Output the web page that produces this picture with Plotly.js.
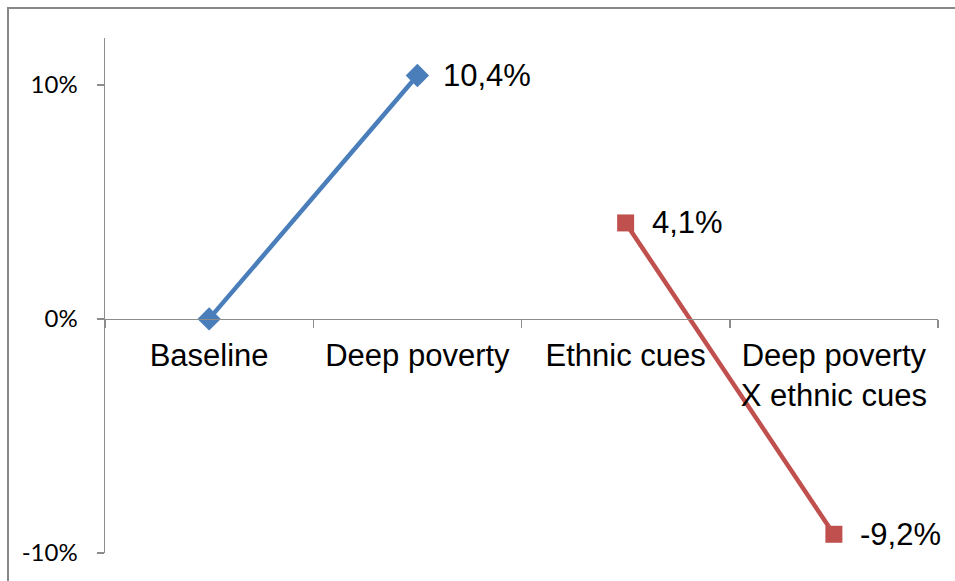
<!DOCTYPE html>
<html>
<head>
<meta charset="utf-8">
<script src="https://cdn.plot.ly/plotly-3.0.1.min.js"></script>
<style>html,body{margin:0;padding:0;background:#fff;}#chart{width:955px;height:581px;}</style>
</head>
<body>
<div id="chart"></div>
<script>
const categories = ["Baseline", "Deep poverty", "Ethnic cues", "Deep poverty<br>X ethnic cues"];
const povertyCats = ["Baseline", "Deep poverty"];
const povertyVals = [0, 10.4];
const povertyLabeled = [false, true];
const ethnicCats = ["Ethnic cues", "Deep poverty<br>X ethnic cues"];
const ethnicVals = [4.1, -9.2];
const ethnicLabeled = [true, true];
const yTickVals = [-10, 0, 10];
const yTickText = ["-10%", "0%", "10%"];
const yMin = -10, yMax = 12;

const fmt = v => v.toFixed(1).replace('.', ',') + '%';

const traces = [
  {x: povertyCats, y: povertyVals, type: 'scatter', mode: 'lines+markers',
   line: {color: '#4A7EBB', width: 4.5},
   marker: {symbol: 'diamond', size: 18, color: '#4A7EBB'}, hoverinfo: 'none'},
  {x: ethnicCats, y: ethnicVals, type: 'scatter', mode: 'lines+markers',
   line: {color: '#C0504D', width: 4.5},
   marker: {symbol: 'square', size: 17, color: '#C0504D'}, hoverinfo: 'none'}
];

const annotations = [];
povertyCats.forEach((c, i) => { if (povertyLabeled[i]) annotations.push({x: c, y: povertyVals[i], text: fmt(povertyVals[i])}); });
ethnicCats.forEach((c, i) => { if (ethnicLabeled[i]) annotations.push({x: c, y: ethnicVals[i], text: fmt(ethnicVals[i])}); });
annotations.forEach(a => Object.assign(a, {xref: 'x', yref: 'y', showarrow: false, xanchor: 'left', yanchor: 'middle', xshift: 24,
  font: {family: 'Liberation Sans, Arial, sans-serif', size: 31, color: '#000'}}));

const layout = {
  width: 955, height: 581,
  margin: {l: 105, r: 17, t: 38, b: 28},
  paper_bgcolor: '#fff', plot_bgcolor: '#fff',
  showlegend: false,
  xaxis: {
    type: 'category', categoryorder: 'array', categoryarray: categories,
    range: [-0.5, 3.5], anchor: 'free', position: (0 - yMin) / (yMax - yMin),
    showline: true, linecolor: '#8c8c8c', linewidth: 1.5,
    ticks: 'outside', tickson: 'boundaries', ticklen: 8, tickcolor: '#8c8c8c', tickwidth: 1.5,
    showgrid: false, zeroline: false, ticklabelstandoff: 8,
    tickfont: {family: 'Liberation Sans, Arial, sans-serif', size: 31, color: '#000'}
  },
  yaxis: {
    range: [yMin, yMax], tickvals: yTickVals, ticktext: yTickText,
    showline: true, linecolor: '#8c8c8c', linewidth: 1.5,
    ticks: 'outside', ticklen: 7, tickcolor: '#8c8c8c', tickwidth: 1.5,
    showgrid: false, zeroline: false, ticklabelstandoff: 14,
    tickfont: {family: 'Lato, Carlito, sans-serif', size: 24, color: '#000'}
  },
  annotations: annotations,
  shapes: [{type: 'rect', xref: 'paper', yref: 'paper',
    x0: (8 - 105) / 833, x1: (970 - 105) / 833, y0: (553 - 600) / 515, y1: (553 - 8) / 515,
    line: {color: '#888', width: 2}, fillcolor: 'rgba(0,0,0,0)', layer: 'below'}]
};

Plotly.newPlot('chart', traces, layout, {staticPlot: true, displayModeBar: false});
</script>
</body>
</html>
